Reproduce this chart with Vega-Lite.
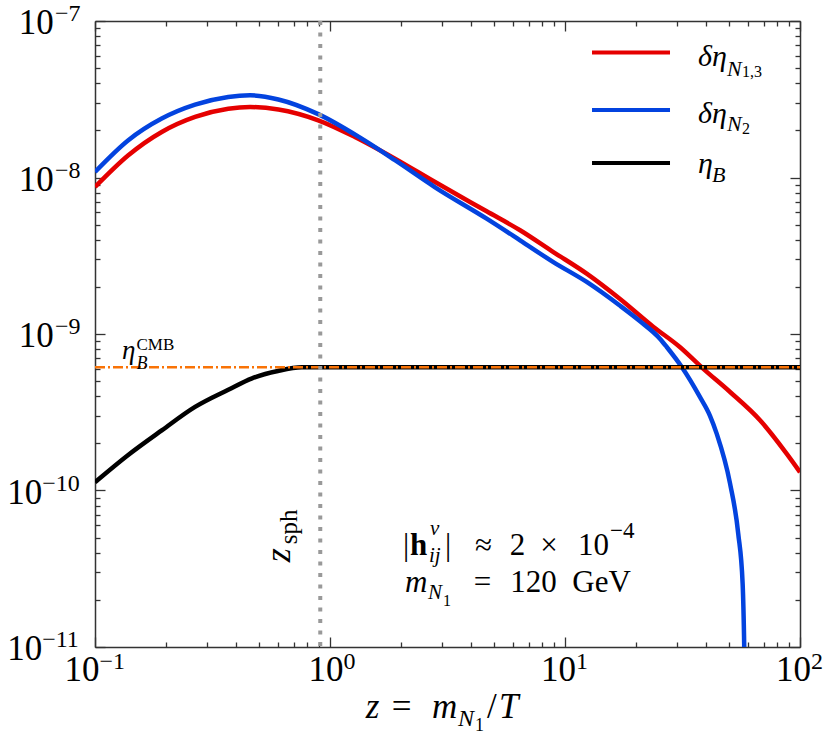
{
  "$schema": "https://vega.github.io/schema/vega-lite/v6.json",
  "width": 705,
  "height": 626,
  "autosize": {"type": "none"},
  "padding": {"left": 95, "top": 21, "right": 31, "bottom": 94},
  "background": "#ffffff",
  "data": {"values": [{}]},
  "config": {
    "view": {"stroke": null},
    "axis": {"grid": false, "domainColor": "#333333", "domainWidth": 1.5, "tickColor": "#333333", "tickWidth": 1.3, "labelFont": "Liberation Serif", "labelColor": "#000000", "labelFlush": false, "labelOverlap": false, "labelBound": false}
  },
  "resolve": {"axis": {"x": "independent", "y": "independent"}},
  "layer": [
    {
      "data": {"values": [
        {"s": "N13", "z": 0.1, "v": 8.69e-9}, {"s": "N13", "z": 0.1386, "v": 1.387e-8}, {"s": "N13", "z": 0.1923, "v": 1.955e-8},
        {"s": "N13", "z": 0.2666, "v": 2.44e-8}, {"s": "N13", "z": 0.369, "v": 2.75e-8}, {"s": "N13", "z": 0.457, "v": 2.82e-8},
        {"s": "N13", "z": 0.603, "v": 2.72e-8}, {"s": "N13", "z": 0.891, "v": 2.32e-8}, {"s": "N13", "z": 1.276, "v": 1.815e-8},
        {"s": "N13", "z": 1.89, "v": 1.32e-8}, {"s": "N13", "z": 2.8, "v": 9.35e-9}, {"s": "N13", "z": 4.64, "v": 6.08e-9},
        {"s": "N13", "z": 6.44, "v": 4.6e-9}, {"s": "N13", "z": 8.92, "v": 3.34e-9}, {"s": "N13", "z": 12.37, "v": 2.43e-9},
        {"s": "N13", "z": 17.1, "v": 1.68e-9}, {"s": "N13", "z": 23.8, "v": 1.11e-9}, {"s": "N13", "z": 30.8, "v": 8.26e-10},
        {"s": "N13", "z": 38.7, "v": 6.01e-10}, {"s": "N13", "z": 50.4, "v": 4.26e-10}, {"s": "N13", "z": 67.6, "v": 2.81e-10},
        {"s": "N13", "z": 87.7, "v": 1.72e-10}, {"s": "N13", "z": 100, "v": 1.31e-10},
        {"s": "N2", "z": 0.1, "v": 1.084e-8}, {"s": "N2", "z": 0.1386, "v": 1.73e-8}, {"s": "N2", "z": 0.1923, "v": 2.38e-8},
        {"s": "N2", "z": 0.2666, "v": 2.92e-8}, {"s": "N2", "z": 0.369, "v": 3.27e-8}, {"s": "N2", "z": 0.457, "v": 3.35e-8},
        {"s": "N2", "z": 0.603, "v": 3.15e-8}, {"s": "N2", "z": 0.891, "v": 2.54e-8}, {"s": "N2", "z": 1.364, "v": 1.77e-8},
        {"s": "N2", "z": 1.89, "v": 1.29e-8}, {"s": "N2", "z": 2.8, "v": 8.66e-9},
        {"s": "N2", "z": 4.64, "v": 5.46e-9}, {"s": "N2", "z": 6.44, "v": 3.97e-9}, {"s": "N2", "z": 8.92, "v": 2.88e-9},
        {"s": "N2", "z": 12.37, "v": 2.15e-9}, {"s": "N2", "z": 17.1, "v": 1.52e-9}, {"s": "N2", "z": 20.8, "v": 1.21e-9},
        {"s": "N2", "z": 25.4, "v": 9.3e-10}, {"s": "N2", "z": 27.1, "v": 8.26e-10}, {"s": "N2", "z": 31.4, "v": 6.15e-10},
        {"s": "N2", "z": 37.5, "v": 3.96e-10}, {"s": "N2", "z": 41.4, "v": 3.0e-10}, {"s": "N2", "z": 44.2, "v": 2.31e-10},
        {"s": "N2", "z": 50.4, "v": 1.107e-10}, {"s": "N2", "z": 54.6, "v": 5.3e-11}, {"s": "N2", "z": 57.0, "v": 2.54e-11},
        {"s": "N2", "z": 57.9, "v": 1.0e-11}, {"s": "N2", "z": 58.3, "v": 5e-12},
        {"s": "B", "z": 0.1, "v": 1.128e-10}, {"s": "B", "z": 0.138, "v": 1.68e-10}, {"s": "B", "z": 0.193, "v": 2.43e-10},
        {"s": "B", "z": 0.2666, "v": 3.42e-10}, {"s": "B", "z": 0.369, "v": 4.4e-10}, {"s": "B", "z": 0.466, "v": 5.21e-10},
        {"s": "B", "z": 0.6, "v": 5.8e-10}, {"s": "B", "z": 0.76, "v": 6.12e-10}, {"s": "B", "z": 1, "v": 6.12e-10},
        {"s": "B", "z": 10, "v": 6.12e-10}, {"s": "B", "z": 100, "v": 6.12e-10}
      ]},
      "mark": {"type": "line", "strokeWidth": 4.5, "interpolate": "monotone", "clip": true, "strokeJoin": "round"},
      "encoding": {
        "x": {"field": "z", "type": "quantitative", "scale": {"type": "log", "domain": [0.1, 100], "nice": false},
          "axis": {"orient": "bottom", "values": [0.1, 1, 10, 100], "title": null, "tickSize": -10, "labelExpr": "'10'", "labelFontSize": 35, "labelAlign": "right", "labelBaseline": "alphabetic", "labelPadding": 43.3,
            "labelOffset": {"condition": [{"test": "datum.value < 0.5", "value": 4}, {"test": "datum.value < 5", "value": 13}], "value": 10.5}}},
        "y": {"field": "v", "type": "quantitative", "scale": {"type": "log", "domain": [1e-11, 1e-7], "nice": false},
          "axis": {"orient": "left", "values": [1e-11, 1e-10, 1e-9, 1e-8, 1e-7], "title": null, "tickSize": -10, "labelExpr": "'10'", "labelFontSize": 35, "labelAlign": "right", "labelBaseline": "alphabetic", "labelOffset": 12.8,
            "labelPadding": {"condition": {"test": "datum.value < 5e-10", "value": 63.3}, "value": 51.7}}},
        "color": {"field": "s", "type": "nominal",
          "scale": {"domain": ["N13", "N2", "B"], "range": ["#e50000", "#0343df", "#000000"]},
          "legend": null}
      }
    },
    {
      "mark": {"type": "rule", "color": "#f97306", "strokeWidth": 2.5, "strokeDash": [10, 3, 2, 3]},
      "encoding": {
        "x": {"datum": 0.1, "type": "quantitative", "scale": {"type": "log", "domain": [0.1, 100], "nice": false},
          "axis": {"orient": "bottom", "values": [0.2, 0.3, 0.4, 0.5, 0.6, 0.7, 0.8, 0.9, 2, 3, 4, 5, 6, 7, 8, 9, 20, 30, 40, 50, 60, 70, 80, 90], "title": null, "domain": false, "labels": false, "tickSize": -5}},
        "x2": {"datum": 100},
        "y": {"datum": 6.12e-10, "type": "quantitative", "scale": {"type": "log", "domain": [1e-11, 1e-7], "nice": false},
          "axis": {"orient": "left", "values": [2e-11, 3e-11, 4e-11, 5e-11, 6e-11, 7e-11, 8e-11, 9e-11, 2e-10, 3e-10, 4e-10, 5e-10, 6e-10, 7e-10, 8e-10, 9e-10, 2e-9, 3e-9, 4e-9, 5e-9, 6e-9, 7e-9, 8e-9, 9e-9, 2e-8, 3e-8, 4e-8, 5e-8, 6e-8, 7e-8, 8e-8, 9e-8], "title": null, "domain": false, "labels": false, "tickSize": -5}}
      }
    },
    {
      "mark": {"type": "rule", "color": "#999999", "strokeWidth": 4, "strokeDash": [4, 7.5]},
      "encoding": {
        "x": {"datum": 0.909, "type": "quantitative", "scale": {"type": "log", "domain": [0.1, 100], "nice": false},
          "axis": {"orient": "top", "values": [0.1, 1, 10, 100], "title": null, "labels": false, "tickSize": -10}},
        "y": {"datum": 1e-7, "type": "quantitative", "scale": {"type": "log", "domain": [1e-11, 1e-7], "nice": false},
          "axis": {"orient": "right", "values": [1e-11, 1e-10, 1e-9, 1e-8, 1e-7], "title": null, "labels": false, "tickSize": -10}},
        "y2": {"datum": 1e-11}
      }
    },
    {
      "mark": {"type": "text", "align": "left", "baseline": "alphabetic", "font": "Liberation Serif", "fontSize": 27, "fontStyle": "italic", "color": "#000000"},
      "encoding": {
        "x": {"datum": 0.1303, "type": "quantitative", "scale": {"type": "log", "domain": [0.1, 100], "nice": false},
          "axis": {"orient": "top", "values": [0.2, 0.3, 0.4, 0.5, 0.6, 0.7, 0.8, 0.9, 2, 3, 4, 5, 6, 7, 8, 9, 20, 30, 40, 50, 60, 70, 80, 90], "title": null, "domain": false, "labels": false, "tickSize": -5}},
        "y": {"datum": 6.89e-10, "type": "quantitative", "scale": {"type": "log", "domain": [1e-11, 1e-7], "nice": false},
          "axis": {"orient": "right", "values": [2e-11, 3e-11, 4e-11, 5e-11, 6e-11, 7e-11, 8e-11, 9e-11, 2e-10, 3e-10, 4e-10, 5e-10, 6e-10, 7e-10, 8e-10, 9e-10, 2e-9, 3e-9, 4e-9, 5e-9, 6e-9, 7e-9, 8e-9, 9e-9, 2e-8, 3e-8, 4e-8, 5e-8, 6e-8, 7e-8, 8e-8, 9e-8], "title": null, "domain": false, "labels": false, "tickSize": -5}},
        "text": {"value": "η"}
      }
    },
    {
      "mark": {"type": "text", "align": "left", "baseline": "alphabetic", "font": "Liberation Serif", "fontSize": 18, "fontStyle": "italic", "color": "#000000"},
      "encoding": {
        "x": {"datum": 0.1502, "type": "quantitative", "scale": {"type": "log", "domain": [0.1, 100], "nice": false},
          "axis": {"orient": "bottom", "values": [0.1, 1, 10, 100], "title": null, "domain": false, "ticks": false, "labelFontSize": 24, "labelAlign": "left", "labelBaseline": "alphabetic", "labelPadding": 21.3,
            "labelExpr": "datum.value < 0.5 ? '−1' : datum.value < 5 ? '0' : datum.value < 50 ? '1' : '2'",
            "labelOffset": {"condition": [{"test": "datum.value < 0.5", "value": 4}, {"test": "datum.value < 5", "value": 13}], "value": 10.5}}},
        "y": {"datum": 5.95e-10, "type": "quantitative", "scale": {"type": "log", "domain": [1e-11, 1e-7], "nice": false},
          "axis": {"orient": "left", "values": [1e-11, 1e-10, 1e-9, 1e-8, 1e-7], "title": null, "domain": false, "ticks": false, "labelFontSize": 24, "labelAlign": "left", "labelBaseline": "alphabetic", "labelOffset": -0.5,
            "labelExpr": "datum.value < 5e-11 ? '−11' : datum.value < 5e-10 ? '−10' : datum.value < 5e-9 ? '−9' : datum.value < 5e-8 ? '−8' : '−7'",
            "labelPadding": {"condition": {"test": "datum.value < 5e-10", "value": 53.3}, "value": 40.5}}},
        "text": {"value": "B"}
      }
    },
    {"mark": {"type": "rule", "strokeWidth": 4},
     "encoding": {"x": {"datum": 13.03, "type": "quantitative", "scale": {"type": "log", "domain": [0.1, 100], "nice": false}, "axis": null}, "x2": {"datum": 27.98}, "y": {"datum": 6.28e-8, "type": "quantitative", "scale": {"type": "log", "domain": [1e-11, 1e-7], "nice": false}, "axis": null}, "color": {"datum": "N13", "type": "nominal", "legend": null}}},
    {"mark": {"type": "rule", "strokeWidth": 4},
     "encoding": {"x": {"datum": 13.03, "type": "quantitative", "scale": {"type": "log", "domain": [0.1, 100], "nice": false}, "axis": null}, "x2": {"datum": 27.98}, "y": {"datum": 2.7e-8, "type": "quantitative", "scale": {"type": "log", "domain": [1e-11, 1e-7], "nice": false}, "axis": null}, "color": {"datum": "N2", "type": "nominal", "legend": null}}},
    {"mark": {"type": "rule", "strokeWidth": 4},
     "encoding": {"x": {"datum": 13.03, "type": "quantitative", "scale": {"type": "log", "domain": [0.1, 100], "nice": false}, "axis": null}, "x2": {"datum": 27.98}, "y": {"datum": 1.238e-8, "type": "quantitative", "scale": {"type": "log", "domain": [1e-11, 1e-7], "nice": false}, "axis": null}, "color": {"datum": "B", "type": "nominal", "legend": null}}},
    {"mark": {"type": "text", "align": "left", "baseline": "alphabetic", "font": "Liberation Serif", "fontSize": 17, "color": "#000000"},
     "encoding": {"x": {"datum": 0.1502, "type": "quantitative", "scale": {"type": "log", "domain": [0.1, 100], "nice": false}, "axis": null}, "y": {"datum": 7.86e-10, "type": "quantitative", "scale": {"type": "log", "domain": [1e-11, 1e-7], "nice": false}, "axis": null}, "text": {"value": "CMB"}}},
    {"mark": {"type": "text", "align": "left", "baseline": "alphabetic", "angle": 270, "font": "Liberation Serif", "fontSize": 36, "fontStyle": "italic", "color": "#000000"},
     "encoding": {"x": {"datum": 0.6757, "type": "quantitative", "scale": {"type": "log", "domain": [0.1, 100], "nice": false}, "axis": null}, "y": {"datum": 3.476e-11, "type": "quantitative", "scale": {"type": "log", "domain": [1e-11, 1e-7], "nice": false}, "axis": null}, "text": {"value": "z"}}},
    {"mark": {"type": "text", "align": "left", "baseline": "alphabetic", "angle": 270, "font": "Liberation Serif", "fontSize": 25, "color": "#000000"},
     "encoding": {"x": {"datum": 0.7237, "type": "quantitative", "scale": {"type": "log", "domain": [0.1, 100], "nice": false}, "axis": null}, "y": {"datum": 4.53e-11, "type": "quantitative", "scale": {"type": "log", "domain": [1e-11, 1e-7], "nice": false}, "axis": null}, "text": {"value": "sph"}}},
    {"mark": {"type": "text", "align": "left", "baseline": "alphabetic", "font": "Liberation Serif", "fontSize": 31, "color": "#000000"},
     "encoding": {"x": {"datum": 2.045, "type": "quantitative", "scale": {"type": "log", "domain": [0.1, 100], "nice": false}, "axis": null}, "y": {"datum": 3.855e-11, "type": "quantitative", "scale": {"type": "log", "domain": [1e-11, 1e-7], "nice": false}, "axis": null}, "text": {"value": "|"}}},
    {"mark": {"type": "text", "align": "left", "baseline": "alphabetic", "font": "Liberation Serif", "fontSize": 31, "fontWeight": "bold", "color": "#000000"},
     "encoding": {"x": {"datum": 2.189, "type": "quantitative", "scale": {"type": "log", "domain": [0.1, 100], "nice": false}, "axis": null}, "y": {"datum": 3.855e-11, "type": "quantitative", "scale": {"type": "log", "domain": [1e-11, 1e-7], "nice": false}, "axis": null}, "text": {"value": "h"}}},
    {"mark": {"type": "text", "align": "left", "baseline": "alphabetic", "font": "Liberation Serif", "fontSize": 21, "fontStyle": "italic", "color": "#000000"},
     "encoding": {"x": {"datum": 2.664, "type": "quantitative", "scale": {"type": "log", "domain": [0.1, 100], "nice": false}, "axis": null}, "y": {"datum": 5.17e-11, "type": "quantitative", "scale": {"type": "log", "domain": [1e-11, 1e-7], "nice": false}, "axis": null}, "text": {"value": "ν"}}},
    {"mark": {"type": "text", "align": "left", "baseline": "alphabetic", "font": "Liberation Serif", "fontSize": 21, "fontStyle": "italic", "color": "#000000"},
     "encoding": {"x": {"datum": 2.638, "type": "quantitative", "scale": {"type": "log", "domain": [0.1, 100], "nice": false}, "axis": null}, "y": {"datum": 3.476e-11, "type": "quantitative", "scale": {"type": "log", "domain": [1e-11, 1e-7], "nice": false}, "axis": null}, "text": {"value": "ij"}}},
    {"mark": {"type": "text", "align": "left", "baseline": "alphabetic", "font": "Liberation Serif", "fontSize": 31, "color": "#000000"},
     "encoding": {"x": {"datum": 3.086, "type": "quantitative", "scale": {"type": "log", "domain": [0.1, 100], "nice": false}, "axis": null}, "y": {"datum": 3.855e-11, "type": "quantitative", "scale": {"type": "log", "domain": [1e-11, 1e-7], "nice": false}, "axis": null}, "text": {"value": "|"}}},
    {"mark": {"type": "text", "align": "center", "baseline": "alphabetic", "font": "Liberation Serif", "fontSize": 31, "color": "#000000"},
     "encoding": {"x": {"datum": 4.5, "type": "quantitative", "scale": {"type": "log", "domain": [0.1, 100], "nice": false}, "axis": null}, "y": {"datum": 3.855e-11, "type": "quantitative", "scale": {"type": "log", "domain": [1e-11, 1e-7], "nice": false}, "axis": null}, "text": {"value": "≈"}}},
    {"mark": {"type": "text", "align": "center", "baseline": "alphabetic", "font": "Liberation Serif", "fontSize": 31, "color": "#000000"},
     "encoding": {"x": {"datum": 6.28, "type": "quantitative", "scale": {"type": "log", "domain": [0.1, 100], "nice": false}, "axis": null}, "y": {"datum": 3.855e-11, "type": "quantitative", "scale": {"type": "log", "domain": [1e-11, 1e-7], "nice": false}, "axis": null}, "text": {"value": "2"}}},
    {"mark": {"type": "text", "align": "center", "baseline": "alphabetic", "font": "Liberation Serif", "fontSize": 31, "color": "#000000"},
     "encoding": {"x": {"datum": 8.55, "type": "quantitative", "scale": {"type": "log", "domain": [0.1, 100], "nice": false}, "axis": null}, "y": {"datum": 3.855e-11, "type": "quantitative", "scale": {"type": "log", "domain": [1e-11, 1e-7], "nice": false}, "axis": null}, "text": {"value": "×"}}},
    {"mark": {"type": "text", "align": "center", "baseline": "alphabetic", "font": "Liberation Serif", "fontSize": 31, "color": "#000000"},
     "encoding": {"x": {"datum": 13.22, "type": "quantitative", "scale": {"type": "log", "domain": [0.1, 100], "nice": false}, "axis": null}, "y": {"datum": 3.855e-11, "type": "quantitative", "scale": {"type": "log", "domain": [1e-11, 1e-7], "nice": false}, "axis": null}, "text": {"value": "10"}}},
    {"mark": {"type": "text", "align": "left", "baseline": "alphabetic", "font": "Liberation Serif", "fontSize": 23, "color": "#000000"},
     "encoding": {"x": {"datum": 15.54, "type": "quantitative", "scale": {"type": "log", "domain": [0.1, 100], "nice": false}, "axis": null}, "y": {"datum": 4.95e-11, "type": "quantitative", "scale": {"type": "log", "domain": [1e-11, 1e-7], "nice": false}, "axis": null}, "text": {"value": "−4"}}},
    {"mark": {"type": "text", "align": "left", "baseline": "alphabetic", "font": "Liberation Serif", "fontSize": 31, "fontStyle": "italic", "color": "#000000"},
     "encoding": {"x": {"datum": 2.085, "type": "quantitative", "scale": {"type": "log", "domain": [0.1, 100], "nice": false}, "axis": null}, "y": {"datum": 2.236e-11, "type": "quantitative", "scale": {"type": "log", "domain": [1e-11, 1e-7], "nice": false}, "axis": null}, "text": {"value": "m"}}},
    {"mark": {"type": "text", "align": "left", "baseline": "alphabetic", "font": "Liberation Serif", "fontSize": 21, "fontStyle": "italic", "color": "#000000"},
     "encoding": {"x": {"datum": 2.612, "type": "quantitative", "scale": {"type": "log", "domain": [0.1, 100], "nice": false}, "axis": null}, "y": {"datum": 2.017e-11, "type": "quantitative", "scale": {"type": "log", "domain": [1e-11, 1e-7], "nice": false}, "axis": null}, "text": {"value": "N"}}},
    {"mark": {"type": "text", "align": "left", "baseline": "alphabetic", "font": "Liberation Serif", "fontSize": 16, "color": "#000000"},
     "encoding": {"x": {"datum": 3.026, "type": "quantitative", "scale": {"type": "log", "domain": [0.1, 100], "nice": false}, "axis": null}, "y": {"datum": 1.82e-11, "type": "quantitative", "scale": {"type": "log", "domain": [1e-11, 1e-7], "nice": false}, "axis": null}, "text": {"value": "1"}}},
    {"mark": {"type": "text", "align": "center", "baseline": "alphabetic", "font": "Liberation Serif", "fontSize": 31, "color": "#000000"},
     "encoding": {"x": {"datum": 4.457, "type": "quantitative", "scale": {"type": "log", "domain": [0.1, 100], "nice": false}, "axis": null}, "y": {"datum": 2.236e-11, "type": "quantitative", "scale": {"type": "log", "domain": [1e-11, 1e-7], "nice": false}, "axis": null}, "text": {"value": "="}}},
    {"mark": {"type": "text", "align": "center", "baseline": "alphabetic", "font": "Liberation Serif", "fontSize": 31, "color": "#000000"},
     "encoding": {"x": {"datum": 7.345, "type": "quantitative", "scale": {"type": "log", "domain": [0.1, 100], "nice": false}, "axis": null}, "y": {"datum": 2.236e-11, "type": "quantitative", "scale": {"type": "log", "domain": [1e-11, 1e-7], "nice": false}, "axis": null}, "text": {"value": "120"}}},
    {"mark": {"type": "text", "align": "center", "baseline": "alphabetic", "font": "Liberation Serif", "fontSize": 31, "color": "#000000"},
     "encoding": {"x": {"datum": 14.3, "type": "quantitative", "scale": {"type": "log", "domain": [0.1, 100], "nice": false}, "axis": null}, "y": {"datum": 2.236e-11, "type": "quantitative", "scale": {"type": "log", "domain": [1e-11, 1e-7], "nice": false}, "axis": null}, "text": {"value": "GeV"}}},
    {"mark": {"type": "text", "align": "center", "baseline": "alphabetic", "font": "Liberation Serif", "fontSize": 35, "fontStyle": "italic", "color": "#000000"},
     "encoding": {"x": {"datum": 1.517, "type": "quantitative", "scale": {"type": "log", "domain": [0.1, 100], "nice": false}, "axis": null}, "y": {"datum": 3.5e-12, "type": "quantitative", "scale": {"type": "log", "domain": [1e-11, 1e-7], "nice": false}, "axis": null}, "text": {"value": "z"}}},
    {"mark": {"type": "text", "align": "center", "baseline": "alphabetic", "font": "Liberation Serif", "fontSize": 35, "color": "#000000"},
     "encoding": {"x": {"datum": 2.015, "type": "quantitative", "scale": {"type": "log", "domain": [0.1, 100], "nice": false}, "axis": null}, "y": {"datum": 3.5e-12, "type": "quantitative", "scale": {"type": "log", "domain": [1e-11, 1e-7], "nice": false}, "axis": null}, "text": {"value": "="}}},
    {"mark": {"type": "text", "align": "left", "baseline": "alphabetic", "font": "Liberation Serif", "fontSize": 35, "fontStyle": "italic", "color": "#000000"},
     "encoding": {"x": {"datum": 2.716, "type": "quantitative", "scale": {"type": "log", "domain": [0.1, 100], "nice": false}, "axis": null}, "y": {"datum": 3.5e-12, "type": "quantitative", "scale": {"type": "log", "domain": [1e-11, 1e-7], "nice": false}, "axis": null}, "text": {"value": "m"}}},
    {"mark": {"type": "text", "align": "left", "baseline": "alphabetic", "font": "Liberation Serif", "fontSize": 24, "fontStyle": "italic", "color": "#000000"},
     "encoding": {"x": {"datum": 3.505, "type": "quantitative", "scale": {"type": "log", "domain": [0.1, 100], "nice": false}, "axis": null}, "y": {"datum": 3.11e-12, "type": "quantitative", "scale": {"type": "log", "domain": [1e-11, 1e-7], "nice": false}, "axis": null}, "text": {"value": "N"}}},
    {"mark": {"type": "text", "align": "left", "baseline": "alphabetic", "font": "Liberation Serif", "fontSize": 18, "color": "#000000"},
     "encoding": {"x": {"datum": 4.14, "type": "quantitative", "scale": {"type": "log", "domain": [0.1, 100], "nice": false}, "axis": null}, "y": {"datum": 2.89e-12, "type": "quantitative", "scale": {"type": "log", "domain": [1e-11, 1e-7], "nice": false}, "axis": null}, "text": {"value": "1"}}},
    {"mark": {"type": "text", "align": "left", "baseline": "alphabetic", "font": "Liberation Serif", "fontSize": 35, "color": "#000000"},
     "encoding": {"x": {"datum": 4.657, "type": "quantitative", "scale": {"type": "log", "domain": [0.1, 100], "nice": false}, "axis": null}, "y": {"datum": 3.5e-12, "type": "quantitative", "scale": {"type": "log", "domain": [1e-11, 1e-7], "nice": false}, "axis": null}, "text": {"value": "/"}}},
    {"mark": {"type": "text", "align": "left", "baseline": "alphabetic", "font": "Liberation Serif", "fontSize": 35, "fontStyle": "italic", "color": "#000000"},
     "encoding": {"x": {"datum": 5.238, "type": "quantitative", "scale": {"type": "log", "domain": [0.1, 100], "nice": false}, "axis": null}, "y": {"datum": 3.5e-12, "type": "quantitative", "scale": {"type": "log", "domain": [1e-11, 1e-7], "nice": false}, "axis": null}, "text": {"value": "T"}}},
    {"mark": {"type": "text", "align": "left", "baseline": "alphabetic", "font": "Liberation Serif", "fontSize": 30, "fontStyle": "italic", "color": "#000000"},
     "encoding": {"x": {"datum": 36.81, "type": "quantitative", "scale": {"type": "log", "domain": [0.1, 100], "nice": false}, "axis": null}, "y": {"datum": 5.16e-8, "type": "quantitative", "scale": {"type": "log", "domain": [1e-11, 1e-7], "nice": false}, "axis": null}, "text": {"value": "δη"}}},
    {"mark": {"type": "text", "align": "left", "baseline": "alphabetic", "font": "Liberation Serif", "fontSize": 22, "fontStyle": "italic", "color": "#000000"},
     "encoding": {"x": {"datum": 48.92, "type": "quantitative", "scale": {"type": "log", "domain": [0.1, 100], "nice": false}, "axis": null}, "y": {"datum": 4.43e-8, "type": "quantitative", "scale": {"type": "log", "domain": [1e-11, 1e-7], "nice": false}, "axis": null}, "text": {"value": "N"}}},
    {"mark": {"type": "text", "align": "left", "baseline": "alphabetic", "font": "Liberation Serif", "fontSize": 16, "color": "#000000"},
     "encoding": {"x": {"datum": 56.65, "type": "quantitative", "scale": {"type": "log", "domain": [0.1, 100], "nice": false}, "axis": null}, "y": {"datum": 4.37e-8, "type": "quantitative", "scale": {"type": "log", "domain": [1e-11, 1e-7], "nice": false}, "axis": null}, "text": {"value": "1,3"}}},
    {"mark": {"type": "text", "align": "left", "baseline": "alphabetic", "font": "Liberation Serif", "fontSize": 30, "fontStyle": "italic", "color": "#000000"},
     "encoding": {"x": {"datum": 36.81, "type": "quantitative", "scale": {"type": "log", "domain": [0.1, 100], "nice": false}, "axis": null}, "y": {"datum": 2.243e-8, "type": "quantitative", "scale": {"type": "log", "domain": [1e-11, 1e-7], "nice": false}, "axis": null}, "text": {"value": "δη"}}},
    {"mark": {"type": "text", "align": "left", "baseline": "alphabetic", "font": "Liberation Serif", "fontSize": 22, "fontStyle": "italic", "color": "#000000"},
     "encoding": {"x": {"datum": 48.92, "type": "quantitative", "scale": {"type": "log", "domain": [0.1, 100], "nice": false}, "axis": null}, "y": {"datum": 1.973e-8, "type": "quantitative", "scale": {"type": "log", "domain": [1e-11, 1e-7], "nice": false}, "axis": null}, "text": {"value": "N"}}},
    {"mark": {"type": "text", "align": "left", "baseline": "alphabetic", "font": "Liberation Serif", "fontSize": 16, "color": "#000000"},
     "encoding": {"x": {"datum": 56.65, "type": "quantitative", "scale": {"type": "log", "domain": [0.1, 100], "nice": false}, "axis": null}, "y": {"datum": 1.888e-8, "type": "quantitative", "scale": {"type": "log", "domain": [1e-11, 1e-7], "nice": false}, "axis": null}, "text": {"value": "2"}}},
    {"mark": {"type": "text", "align": "left", "baseline": "alphabetic", "font": "Liberation Serif", "fontSize": 30, "fontStyle": "italic", "color": "#000000"},
     "encoding": {"x": {"datum": 36.81, "type": "quantitative", "scale": {"type": "log", "domain": [0.1, 100], "nice": false}, "axis": null}, "y": {"datum": 1.063e-8, "type": "quantitative", "scale": {"type": "log", "domain": [1e-11, 1e-7], "nice": false}, "axis": null}, "text": {"value": "η"}}},
    {"mark": {"type": "text", "align": "left", "baseline": "alphabetic", "font": "Liberation Serif", "fontSize": 22, "fontStyle": "italic", "color": "#000000"},
     "encoding": {"x": {"datum": 42.22, "type": "quantitative", "scale": {"type": "log", "domain": [0.1, 100], "nice": false}, "axis": null}, "y": {"datum": 9.36e-9, "type": "quantitative", "scale": {"type": "log", "domain": [1e-11, 1e-7], "nice": false}, "axis": null}, "text": {"value": "B"}}}
  ]
}
